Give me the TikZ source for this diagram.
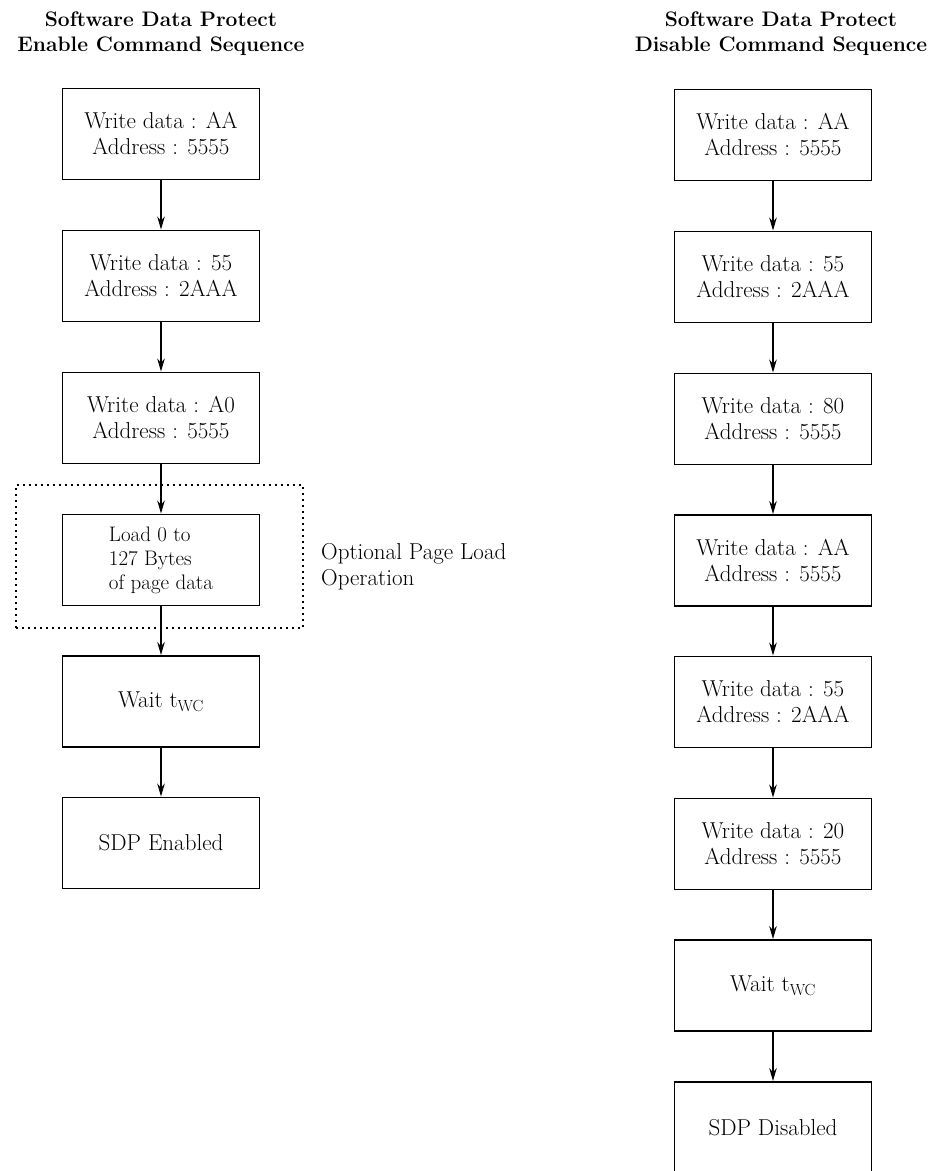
\documentclass[tikz,border=0pt]{standalone}
\usetikzlibrary{arrows.meta}
\begin{document}
\begin{tikzpicture}[x=1pt,y=-1pt,
  box/.style={draw, line width=1.9pt, minimum width=197pt, minimum height=91pt,
    align=center, inner sep=0pt, font=\fontsize{23}{26}\selectfont},
  loadbox/.style={box, align=left, font=\fontsize{21}{24}\selectfont},
  arr/.style={line width=1.7pt, -{Stealth[length=13pt,width=7.5pt]}},
  ttl/.style={align=center, inner sep=0pt, font=\fontsize{21}{25}\selectfont\bfseries},
  grpbox/.style={draw, line width=1.7pt, dash pattern=on 1.7pt off 4.3pt, inner sep=0pt,
    minimum width=287pt, minimum height=143pt},
  lbl/.style={align=left, inner sep=0pt, font=\fontsize{23}{26}\selectfont}
  ]
\useasboundingbox (0,0) rectangle (935,1171);

% titles
\node[ttl] (t1) at (161,34) {Software Data Protect\\Enable Command Sequence};
\node[ttl] (t2) at (781,34) {Software Data Protect\\Disable Command Sequence};

% optional page load frame
\node[grpbox] (grp) at (159.5,556.5) {};
\node[lbl, anchor=west] (oplbl) at (321,567) {Optional Page Load\\Operation};

% left column
\node[box] (a1) at (161,134) {Write data : AA\\Address : 5555};
\node[box] (a2) at (161,276) {Write data : 55\\Address : 2AAA};
\node[box] (a3) at (161,418) {Write data : A0\\Address : 5555};
\node[loadbox] (a4) at (161,560) {Load 0 to\\127 Bytes\\of page data};
\node[box] (a5) at (161,701.5) {Wait t\textsubscript{WC}};
\node[box] (a6) at (161,843) {SDP Enabled};

\draw[arr] (a1) -- (a2);
\draw[arr] (a2) -- (a3);
\draw[arr] (a3) -- (a4);
\draw[arr] (a4) -- (a5);
\draw[arr] (a5) -- (a6);

% right column
\node[box] (b1) at (773,135) {Write data : AA\\Address : 5555};
\node[box] (b2) at (773,277) {Write data : 55\\Address : 2AAA};
\node[box] (b3) at (773,419) {Write data : 80\\Address : 5555};
\node[box] (b4) at (773,560.5) {Write data : AA\\Address : 5555};
\node[box] (b5) at (773,702) {Write data : 55\\Address : 2AAA};
\node[box] (b6) at (773,844) {Write data : 20\\Address : 5555};
\node[box] (b7) at (773,985.5) {Wait t\textsubscript{WC}};
\node[box] (b8) at (773,1127.5) {SDP Disabled};

\draw[arr] (b1) -- (b2);
\draw[arr] (b2) -- (b3);
\draw[arr] (b3) -- (b4);
\draw[arr] (b4) -- (b5);
\draw[arr] (b5) -- (b6);
\draw[arr] (b6) -- (b7);
\draw[arr] (b7) -- (b8);
\end{tikzpicture}
\end{document}
